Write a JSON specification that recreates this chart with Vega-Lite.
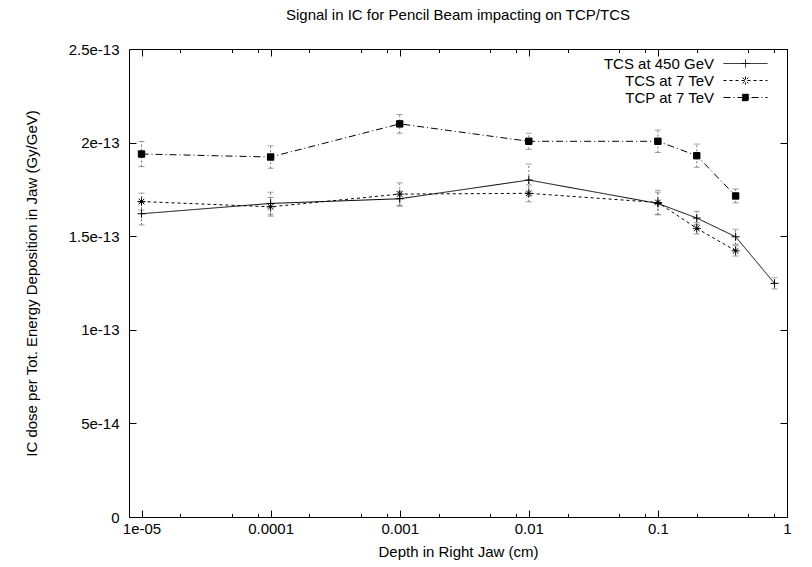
{
  "$schema": "https://vega.github.io/schema/vega-lite/v6.json",
  "width": 658,
  "height": 468,
  "autosize": "none",
  "padding": {"left": 129, "top": 49, "right": 25, "bottom": 50},
  "background": "white",
  "title": {"text": "Signal in IC for Pencil Beam impacting on TCP/TCS", "anchor": "middle", "fontSize": 15, "fontWeight": "normal", "font": "Liberation Sans", "color": "black", "offset": 7, "baseline": "alphabetic"},
  "data": {"values": [
    {"series": "TCS at 450 GeV", "depth": 1e-5, "dose": 1.62e-13, "err": 6e-15},
    {"series": "TCS at 450 GeV", "depth": 1e-4, "dose": 1.675e-13, "err": 6e-15},
    {"series": "TCS at 450 GeV", "depth": 1e-3, "dose": 1.70e-13, "err": 4e-15},
    {"series": "TCS at 450 GeV", "depth": 1e-2, "dose": 1.80e-13, "err": 8.5e-15},
    {"series": "TCS at 450 GeV", "depth": 0.1, "dose": 1.675e-13, "err": 6e-15},
    {"series": "TCS at 450 GeV", "depth": 0.2, "dose": 1.597e-13, "err": 3.6e-15},
    {"series": "TCS at 450 GeV", "depth": 0.4, "dose": 1.497e-13, "err": 4e-15},
    {"series": "TCS at 450 GeV", "depth": 0.8, "dose": 1.248e-13, "err": 3e-15},
    {"series": "TCS at 7 TeV", "depth": 1e-5, "dose": 1.685e-13, "err": 4.5e-15},
    {"series": "TCS at 7 TeV", "depth": 1e-4, "dose": 1.657e-13, "err": 5e-15},
    {"series": "TCS at 7 TeV", "depth": 1e-3, "dose": 1.725e-13, "err": 6e-15},
    {"series": "TCS at 7 TeV", "depth": 1e-2, "dose": 1.729e-13, "err": 4.5e-15},
    {"series": "TCS at 7 TeV", "depth": 0.1, "dose": 1.68e-13, "err": 6.5e-15},
    {"series": "TCS at 7 TeV", "depth": 0.2, "dose": 1.542e-13, "err": 3e-15},
    {"series": "TCS at 7 TeV", "depth": 0.4, "dose": 1.422e-13, "err": 2.8e-15},
    {"series": "TCP at 7 TeV", "depth": 1e-5, "dose": 1.939e-13, "err": 6.7e-15},
    {"series": "TCP at 7 TeV", "depth": 1e-4, "dose": 1.923e-13, "err": 6e-15},
    {"series": "TCP at 7 TeV", "depth": 1e-3, "dose": 2.10e-13, "err": 5e-15},
    {"series": "TCP at 7 TeV", "depth": 1e-2, "dose": 2.007e-13, "err": 4.3e-15},
    {"series": "TCP at 7 TeV", "depth": 0.1, "dose": 2.007e-13, "err": 6e-15},
    {"series": "TCP at 7 TeV", "depth": 0.2, "dose": 1.93e-13, "err": 6.2e-15},
    {"series": "TCP at 7 TeV", "depth": 0.4, "dose": 1.715e-13, "err": 3.7e-15}
  ]},
  "layer": [
    {
      "mark": {"type": "errorbar", "ticks": {"size": 6, "color": "#777777", "strokeDash": [2, 2]}, "rule": {"color": "#777777", "strokeDash": [2, 2]}},
      "encoding": {
        "x": {"field": "depth", "type": "quantitative", "scale": {"type": "log", "domain": [8e-6, 1], "nice": false},
          "axis": {"orient": "bottom", "values": [1e-5, 2e-5, 5e-5, 8e-5, 1e-4, 2e-4, 5e-4, 8e-4, 1e-3, 2e-3, 5e-3, 8e-3, 1e-2, 0.02, 0.05, 0.08, 0.1, 0.2, 0.5, 0.8, 1],
            "labelExpr": "abs(log(datum.value)/LN10 - round(log(datum.value)/LN10)) > 0.01 ? '' : (datum.value < 5e-5 ? '1e-05' : format(datum.value, '~g'))",
            "tickSize": {"condition": {"test": "abs(log(datum.value)/LN10 - round(log(datum.value)/LN10)) < 0.01", "value": -7}, "value": -3.5},
            "labelPadding": 11.5, "title": "Depth in Right Jaw (cm)", "titlePadding": 4, "labelFlush": false, "labelOverlap": false, "labelBound": false}},
        "y": {"field": "dose", "type": "quantitative", "scale": {"domain": [0, 2.5e-13], "nice": false, "zero": false},
          "axis": {"orient": "left", "values": [0, 5e-14, 1e-13, 1.5e-13, 2e-13, 2.5e-13], "labelExpr": "datum.value == 0 ? '0' : format(datum.value, '~e')",
            "tickSize": -7, "labelPadding": 17, "title": "IC dose per Tot. Energy Deposition in Jaw (Gy/GeV)", "titlePadding": 29, "labelFlush": false, "labelOverlap": false, "labelBound": false}},
        "yError": {"field": "err"}
      }
    },
    {
      "mark": {"type": "line", "color": "black", "strokeWidth": 1},
      "encoding": {
        "x": {"field": "depth", "type": "quantitative", "scale": {"type": "log", "domain": [8e-6, 1], "nice": false},
          "axis": {"orient": "top", "values": [1e-5, 2e-5, 5e-5, 8e-5, 1e-4, 2e-4, 5e-4, 8e-4, 1e-3, 2e-3, 5e-3, 8e-3, 1e-2, 0.02, 0.05, 0.08, 0.1, 0.2, 0.5, 0.8, 1],
            "labels": false, "title": null,
            "tickSize": {"condition": {"test": "abs(log(datum.value)/LN10 - round(log(datum.value)/LN10)) < 0.01", "value": -7}, "value": -3.5}}},
        "y": {"field": "dose", "type": "quantitative", "scale": {"domain": [0, 2.5e-13], "nice": false, "zero": false},
          "axis": {"orient": "right", "values": [0, 5e-14, 1e-13, 1.5e-13, 2e-13, 2.5e-13], "labels": false, "title": null, "tickSize": -7}},
        "strokeDash": {"field": "series", "type": "nominal", "scale": {"domain": ["TCS at 450 GeV", "TCS at 7 TeV", "TCP at 7 TeV"], "range": [[1, 0], [3, 3], [7, 3, 1, 3]]}, "legend": null}
      }
    },
    {
      "mark": {"type": "point", "stroke": "black", "strokeWidth": 1, "opacity": 1, "size": 64},
      "encoding": {
        "x": {"field": "depth", "type": "quantitative", "scale": {"type": "log", "domain": [8e-6, 1], "nice": false}, "axis": null},
        "y": {"field": "dose", "type": "quantitative", "scale": {"domain": [0, 2.5e-13], "nice": false, "zero": false}, "axis": null},
        "shape": {"field": "series", "type": "nominal", "scale": {"domain": ["TCS at 450 GeV", "TCS at 7 TeV", "TCP at 7 TeV"], "range": ["M-1,0L1,0M0,-1L0,1", "M-1,0L1,0M0,-1L0,1M-0.7,-0.7L0.7,0.7M-0.7,0.7L0.7,-0.7", "M-0.8,-0.8L0.8,-0.8L0.8,0.8L-0.8,0.8Z"]}, "legend": null},
        "fill": {"field": "series", "type": "nominal", "scale": {"domain": ["TCS at 450 GeV", "TCS at 7 TeV", "TCP at 7 TeV"], "range": ["transparent", "transparent", "black"]}, "legend": null}
      }
    },
    {
      "mark": {"type": "point", "stroke": "black", "strokeWidth": 1, "opacity": 0},
      "encoding": {
        "x": {"field": "depth", "type": "quantitative", "scale": {"type": "log", "domain": [8e-6, 1], "nice": false}, "axis": null},
        "y": {"field": "dose", "type": "quantitative", "scale": {"domain": [0, 2.5e-13], "nice": false, "zero": false}, "axis": null},
        "shape": {"field": "series", "type": "nominal", "scale": {"domain": ["TCS at 450 GeV", "TCS at 7 TeV", "TCP at 7 TeV"], "range": ["M-2.75,0L2.75,0M-0.5,0L0.5,0M0,-0.5L0,0.5", "M-2.75,0L2.75,0M0,-0.5L0,0.5M-0.36,-0.36L0.36,0.36M-0.36,0.36L0.36,-0.36", "M-2.75,0L2.75,0M-0.4,-0.4L0.4,-0.4L0.4,0.4L-0.4,0.4Z"]},
          "legend": {"orient": "none", "legendX": 608, "legendY": 6, "title": null, "symbolSize": 256, "symbolStrokeColor": "black", "symbolStrokeWidth": 1, "symbolOpacity": 1, "labelAlign": "right", "labelOffset": -40, "labelFontSize": 15, "labelColor": "black", "labelFont": "Liberation Sans", "rowPadding": 0, "padding": 0,
            "encode": {"symbols": {"update": {"stroke": {"value": "black"}, "strokeWidth": {"value": 1}, "opacity": {"value": 1}, "strokeOpacity": {"value": 1}}}}}},
        "strokeDash": {"field": "series", "type": "nominal", "scale": {"domain": ["TCS at 450 GeV", "TCS at 7 TeV", "TCP at 7 TeV"], "range": [[1, 0], [3, 3], [7, 3, 1, 3]]},
          "legend": {"orient": "none", "legendX": 608, "legendY": 6, "title": null, "symbolSize": 256, "symbolStrokeColor": "black", "symbolStrokeWidth": 1, "symbolOpacity": 1, "labelAlign": "right", "labelOffset": -40, "labelFontSize": 15, "labelColor": "black", "labelFont": "Liberation Sans", "rowPadding": 0, "padding": 0,
            "encode": {"symbols": {"update": {"stroke": {"value": "black"}, "strokeWidth": {"value": 1}, "opacity": {"value": 1}, "strokeOpacity": {"value": 1}}}}}},
        "fill": {"field": "series", "type": "nominal", "scale": {"domain": ["TCS at 450 GeV", "TCS at 7 TeV", "TCP at 7 TeV"], "range": ["transparent", "transparent", "black"]},
          "legend": {"orient": "none", "legendX": 608, "legendY": 6, "title": null, "symbolSize": 256, "symbolStrokeColor": "black", "symbolStrokeWidth": 1, "symbolOpacity": 1, "labelAlign": "right", "labelOffset": -40, "labelFontSize": 15, "labelColor": "black", "labelFont": "Liberation Sans", "rowPadding": 0, "padding": 0,
            "encode": {"symbols": {"update": {"stroke": {"value": "black"}, "strokeWidth": {"value": 1}, "opacity": {"value": 1}, "strokeOpacity": {"value": 1}}}}}}
      }
    }
  ],
  "resolve": {"scale": {"shape": "independent", "strokeDash": "independent", "fill": "independent"}, "axis": {"x": "independent", "y": "independent"}},
  "config": {
    "font": "Liberation Sans",
    "view": {"stroke": "black", "strokeWidth": 1},
    "axis": {"domain": false, "grid": false, "ticks": true, "tickColor": "black", "tickWidth": 1, "labelColor": "black", "titleColor": "black", "labelFontSize": 15, "titleFontSize": 15, "titleFontWeight": "normal", "labelFont": "Liberation Sans", "titleFont": "Liberation Sans"}
  }
}
